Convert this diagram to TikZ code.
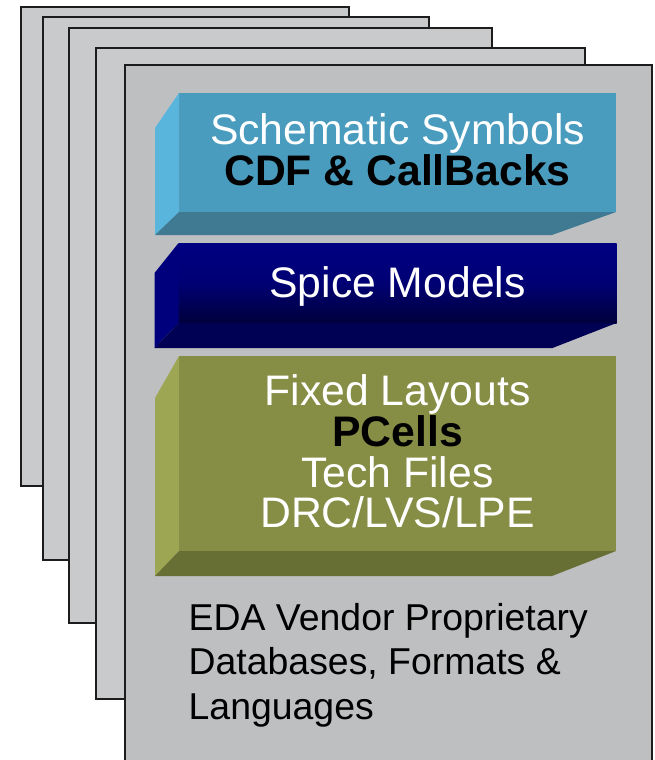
\documentclass[tikz,border=0pt]{standalone}
\usepackage{fontspec}
\setmainfont{Liberation Sans}
\usepackage{tikz}

\definecolor{pageBack}{HTML}{C9CACC}
\definecolor{pageFront}{HTML}{BEBFC1}
\definecolor{pageLine}{HTML}{1C1C1C}
\definecolor{symFront}{HTML}{4A9CBE}
\definecolor{symSide}{HTML}{5AB5DC}
\definecolor{symBottom}{HTML}{3F7A92}
\definecolor{spiceTop}{HTML}{000082}
\definecolor{spiceLow}{HTML}{00003C}
\definecolor{spiceSide}{HTML}{00007C}
\definecolor{spiceBottom}{HTML}{000055}
\definecolor{cellFront}{HTML}{868D45}
\definecolor{cellSide}{HTML}{9CA653}
\definecolor{cellBottom}{HTML}{686F35}

\tikzset{
  sheet/.style = {draw = pageLine, line width = 1.6pt, fill = pageBack},
  face/.style = {inner sep = 0pt, outer sep = 0pt},
  slabtext/.style = {inner sep = 0pt, align = center, text = white,
                     font = \fontsize{42.7}{40.6}\selectfont},
  notetext/.style = {inner sep = 0pt, align = left, text = black,
                     font = \fontsize{37.4}{44.5}\selectfont}
}

\begin{document}
\begin{tikzpicture}[x = 1pt, y = -1pt]
            \useasboundingbox (0,0) rectangle (654,760);

            % stacked sheets behind
            \foreach \l/\t/\r/\b in {21/7/349/486, 43/17/429/560, 69/28/492/623, 96/48/585/699}
                \draw [sheet] (\l,\t) rectangle (\r,\b);
            \draw [sheet, fill = pageFront] (125,65) rectangle (652,775);

            % schematic symbols slab
            \node [face, fill = symFront, minimum width = 437pt, minimum height = 119pt] (symbols) at (397.5,152.5) {};
            \fill [symSide] (symbols.north west) -- ([shift = {(-24,35)}]symbols.north west)
                -- ([shift = {(-24,23)}]symbols.south west) -- (symbols.south west) -- cycle;
            \fill [symBottom] (symbols.south west) -- ([shift = {(-24,23)}]symbols.south west)
                -- ([shift = {(-64,23)}]symbols.south east) -- (symbols.south east) -- cycle;
            \node [slabtext] (symbolstext) at (397.5,150) {Schematic Symbols\\\textcolor{black}{\bfseries CDF \& CallBacks}};

            % spice slab
            \node [face, top color = spiceTop, bottom color = spiceLow, middle color = spiceTop!80!spiceLow, minimum width = 438pt, minimum height = 80pt] (spice) at (397.5,283) {};
            \fill [spiceSide] (spice.north west) -- ([shift = {(-24,30)}]spice.north west)
                -- ([shift = {(-24,25)}]spice.south west) -- (spice.south west) -- cycle;
            \fill [spiceBottom] (spice.south west) -- ([shift = {(-24,25)}]spice.south west)
                -- ([shift = {(-64,25)}]spice.south east) -- (spice.south east) -- cycle;
            \node [slabtext] (spicetext) at (397.5,286) {Spice Models};

            % layout / pcell slab
            \node [face, fill = cellFront, minimum width = 437pt, minimum height = 195pt] (cells) at (397.5,453.5) {};
            \fill [cellSide] (cells.north west) -- ([shift = {(-24,42)}]cells.north west)
                -- ([shift = {(-24,25)}]cells.south west) -- (cells.south west) -- cycle;
            \fill [cellBottom] (cells.south west) -- ([shift = {(-24,25)}]cells.south west)
                -- ([shift = {(-64,25)}]cells.south east) -- (cells.south east) -- cycle;
            \node [slabtext] (cellstext) at (397.5,451.5) {Fixed Layouts\\\textcolor{black}{\bfseries PCells}\\Tech Files\\DRC/LVS/LPE};

            \node [notetext, anchor = west] (vendor) at (188.5,665) {EDA Vendor Proprietary\\Databases, Formats \&\\Languages};
        \end{tikzpicture}
\end{document}
